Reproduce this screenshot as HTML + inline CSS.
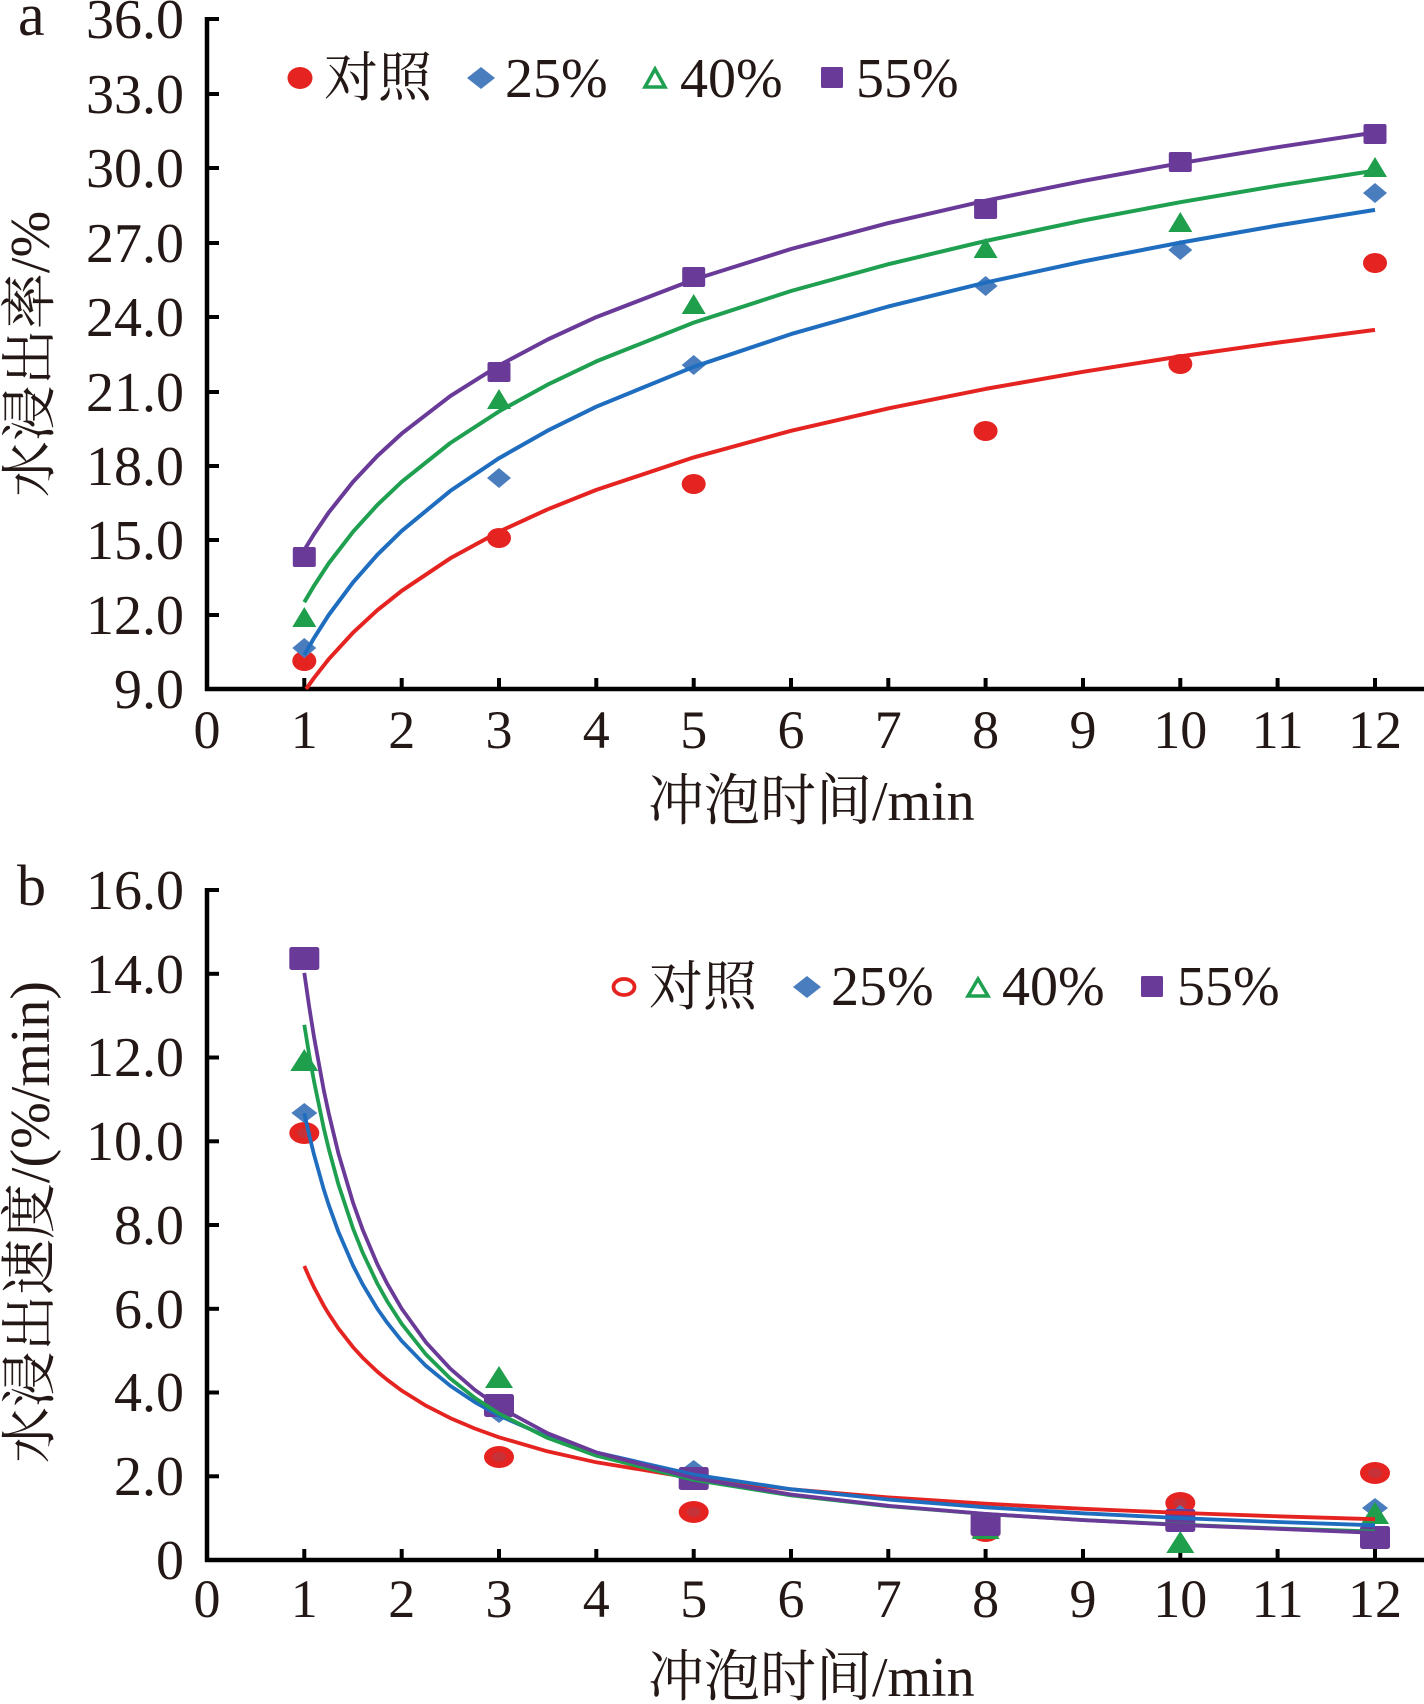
<!DOCTYPE html>
<html>
<head>
<meta charset="utf-8">
<style>
html,body{margin:0;padding:0;background:#fff;}
svg{display:block;}
.t{font-family:"Liberation Serif","Noto Serif CJK SC",serif;fill:#231815;}
</style>
</head>
<body>
<svg width="1424" height="1704" viewBox="0 0 1424 1704" xmlns="http://www.w3.org/2000/svg">
<rect width="1424" height="1704" fill="#fff"/>

<!-- ================= CHART A ================= -->
<text class="t" x="18" y="35" font-size="60">a</text>
<g class="t" font-size="56" text-anchor="end">
<text x="184" y="38">36.0</text>
<text x="184" y="113">33.0</text>
<text x="184" y="187">30.0</text>
<text x="184" y="262">27.0</text>
<text x="184" y="336">24.0</text>
<text x="184" y="411">21.0</text>
<text x="184" y="485">18.0</text>
<text x="184" y="559">15.0</text>
<text x="184" y="634">12.0</text>
<text x="184" y="708">9.0</text>
</g>
<text class="t" font-size="56" text-anchor="middle" transform="translate(49,354) rotate(-90)">水浸出率/%</text>
<g stroke="#000" stroke-width="4.5" fill="none">
<line x1="207" y1="17" x2="207" y2="691"/>
<line x1="205" y1="689" x2="1424" y2="689"/>
</g>
<g stroke="#000" stroke-width="4" fill="none">
<line x1="207" y1="19" x2="219" y2="19"/>
<line x1="207" y1="94" x2="219" y2="94"/>
<line x1="207" y1="168" x2="219" y2="168"/>
<line x1="207" y1="243" x2="219" y2="243"/>
<line x1="207" y1="317" x2="219" y2="317"/>
<line x1="207" y1="392" x2="219" y2="392"/>
<line x1="207" y1="466" x2="219" y2="466"/>
<line x1="207" y1="540" x2="219" y2="540"/>
<line x1="207" y1="615" x2="219" y2="615"/>
<line x1="304.3" y1="689" x2="304.3" y2="678"/>
<line x1="401.7" y1="689" x2="401.7" y2="678"/>
<line x1="499" y1="689" x2="499" y2="678"/>
<line x1="596.3" y1="689" x2="596.3" y2="678"/>
<line x1="693.7" y1="689" x2="693.7" y2="678"/>
<line x1="791" y1="689" x2="791" y2="678"/>
<line x1="888.3" y1="689" x2="888.3" y2="678"/>
<line x1="985.6" y1="689" x2="985.6" y2="678"/>
<line x1="1083" y1="689" x2="1083" y2="678"/>
<line x1="1180.3" y1="689" x2="1180.3" y2="678"/>
<line x1="1277.6" y1="689" x2="1277.6" y2="678"/>
<line x1="1375" y1="689" x2="1375" y2="678"/>
</g>
<g class="t" font-size="54" text-anchor="middle">
<text x="207" y="748">0</text>
<text x="304.3" y="748">1</text>
<text x="401.7" y="748">2</text>
<text x="499" y="748">3</text>
<text x="596.3" y="748">4</text>
<text x="693.7" y="748">5</text>
<text x="791" y="748">6</text>
<text x="888.3" y="748">7</text>
<text x="985.6" y="748">8</text>
<text x="1083" y="748">9</text>
<text x="1180.3" y="748">10</text>
<text x="1277.6" y="748">11</text>
<text x="1375" y="748">12</text>
</g>
<text class="t" x="648" y="820" font-size="56">冲泡时间/min</text>

<!-- legend a -->
<ellipse cx="300" cy="78" rx="12.5" ry="11" fill="#e52421"/>
<text class="t" x="324" y="96" font-size="54">对照</text>
<polygon points="467,78 481,67 495,78 481,89" fill="#4a7dbd"/>
<text class="t" x="505" y="97" font-size="56">25%</text>
<polygon points="645,87 655,69 665,87" fill="none" stroke="#1fa050" stroke-width="3.5"/>
<text class="t" x="680" y="97" font-size="56">40%</text>
<rect x="821" y="67" width="22" height="21" rx="1.5" fill="#6a3a98"/>
<text class="t" x="856" y="97" font-size="56">55%</text>

<!-- markers a -->
<g fill="#e52421">
<ellipse cx="304.3" cy="661" rx="12" ry="10"/>
<ellipse cx="499" cy="538" rx="12" ry="10"/>
<ellipse cx="693.7" cy="484" rx="12" ry="10"/>
<ellipse cx="985.6" cy="431" rx="12" ry="10"/>
<ellipse cx="1180.3" cy="364" rx="12" ry="10"/>
<ellipse cx="1375" cy="263" rx="12" ry="10"/>
</g>
<g fill="#4a7dbd">
<polygon points="292.3,648 304.3,638 316.3,648 304.3,658"/>
<polygon points="487,478 499,468 511,478 499,488"/>
<polygon points="681.7,365 693.7,355 705.7,365 693.7,375"/>
<polygon points="973.6,286 985.6,276 997.6,286 985.6,296"/>
<polygon points="1168.3,250 1180.3,240 1192.3,250 1180.3,260"/>
<polygon points="1363,193 1375,183 1387,193 1375,203"/>
</g>
<g fill="#1f9e4c">
<polygon points="292.3,627 304.3,607 316.3,627"/>
<polygon points="487,409 499,389 511,409"/>
<polygon points="681.7,314 693.7,294 705.7,314"/>
<polygon points="973.6,258 985.6,238 997.6,258"/>
<polygon points="1168.3,232 1180.3,212 1192.3,232"/>
<polygon points="1363,177 1375,157 1387,177"/>
</g>
<g fill="#6a3a98">
<rect x="292.8" y="547" width="23" height="20" rx="2"/>
<rect x="487.5" y="362" width="23" height="20" rx="2"/>
<rect x="682.2" y="267" width="23" height="20" rx="2"/>
<rect x="974.1" y="199" width="23" height="20" rx="2"/>
<rect x="1168.8" y="152" width="23" height="20" rx="2"/>
<rect x="1363.5" y="124" width="23" height="20" rx="2"/>
</g>

<!-- curves a -->
<g fill="none" stroke-width="4" stroke-linejoin="round" stroke-linecap="butt">
<polyline stroke="#e52421" points="306.1,689 314.1,677.8 328.7,659.2 353.0,632.7 377.3,610.2 401.7,590.8 450.3,558.3 499.0,531.7 547.7,509.3 596.3,489.9 693.7,457.4 791.0,430.8 888.3,408.4 985.6,388.9 1083.0,371.8 1180.3,356.4 1277.6,342.6 1375.0,329.9"/>
<polyline stroke="#1f6dbf" points="304.3,655.0 314.1,637.9 328.7,615.0 353.0,582.4 377.3,554.8 401.7,530.9 450.3,490.9 499.0,458.2 547.7,430.6 596.3,406.7 693.7,366.8 791.0,334.1 888.3,306.5 985.6,282.6 1083.0,261.5 1180.3,242.6 1277.6,225.5 1375.0,209.9"/>
<polyline stroke="#1fa050" points="304.3,602.2 314.1,585.6 328.7,563.4 353.0,531.8 377.3,505.0 401.7,481.8 450.3,443.0 499.0,411.4 547.7,384.6 596.3,361.4 693.7,322.6 791.0,291.0 888.3,264.2 985.6,241.0 1083.0,220.5 1180.3,202.2 1277.6,185.7 1375.0,170.6"/>
<polyline stroke="#6a3a98" points="304.3,550.0 314.1,534.0 328.7,512.5 353.0,481.9 377.3,456.0 401.7,433.6 450.3,396.1 499.0,365.4 547.7,339.5 596.3,317.1 693.7,279.6 791.0,249.0 888.3,223.1 985.6,200.7 1083.0,180.9 1180.3,163.2 1277.6,147.2 1375.0,132.5"/>
</g>

<!-- ================= CHART B ================= -->
<text class="t" x="17" y="905" font-size="58">b</text>
<g class="t" font-size="56" text-anchor="end">
<text x="184" y="909">16.0</text>
<text x="184" y="993">14.0</text>
<text x="184" y="1076">12.0</text>
<text x="184" y="1160">10.0</text>
<text x="184" y="1244">8.0</text>
<text x="184" y="1328">6.0</text>
<text x="184" y="1411">4.0</text>
<text x="184" y="1495">2.0</text>
<text x="184" y="1579">0</text>
</g>
<text class="t" font-size="56" text-anchor="middle" transform="translate(49,1222) rotate(-90)">水浸出速度/(%/min)</text>
<g stroke="#000" stroke-width="4.5" fill="none">
<line x1="207" y1="888" x2="207" y2="1562"/>
<line x1="205" y1="1560" x2="1424" y2="1560"/>
</g>
<g stroke="#000" stroke-width="4" fill="none">
<line x1="207" y1="890" x2="219" y2="890"/>
<line x1="207" y1="973.8" x2="219" y2="973.8"/>
<line x1="207" y1="1057.5" x2="219" y2="1057.5"/>
<line x1="207" y1="1141.3" x2="219" y2="1141.3"/>
<line x1="207" y1="1225" x2="219" y2="1225"/>
<line x1="207" y1="1308.8" x2="219" y2="1308.8"/>
<line x1="207" y1="1392.5" x2="219" y2="1392.5"/>
<line x1="207" y1="1476.3" x2="219" y2="1476.3"/>
<line x1="304.3" y1="1560" x2="304.3" y2="1549"/>
<line x1="401.7" y1="1560" x2="401.7" y2="1549"/>
<line x1="499" y1="1560" x2="499" y2="1549"/>
<line x1="596.3" y1="1560" x2="596.3" y2="1549"/>
<line x1="693.7" y1="1560" x2="693.7" y2="1549"/>
<line x1="791" y1="1560" x2="791" y2="1549"/>
<line x1="888.3" y1="1560" x2="888.3" y2="1549"/>
<line x1="985.6" y1="1560" x2="985.6" y2="1549"/>
<line x1="1083" y1="1560" x2="1083" y2="1549"/>
<line x1="1180.3" y1="1560" x2="1180.3" y2="1549"/>
<line x1="1277.6" y1="1560" x2="1277.6" y2="1549"/>
<line x1="1375" y1="1560" x2="1375" y2="1549"/>
</g>
<g class="t" font-size="54" text-anchor="middle">
<text x="207" y="1617">0</text>
<text x="304.3" y="1617">1</text>
<text x="401.7" y="1617">2</text>
<text x="499" y="1617">3</text>
<text x="596.3" y="1617">4</text>
<text x="693.7" y="1617">5</text>
<text x="791" y="1617">6</text>
<text x="888.3" y="1617">7</text>
<text x="985.6" y="1617">8</text>
<text x="1083" y="1617">9</text>
<text x="1180.3" y="1617">10</text>
<text x="1277.6" y="1617">11</text>
<text x="1375" y="1617">12</text>
</g>
<text class="t" x="648" y="1696" font-size="56">冲泡时间/min</text>

<!-- legend b -->
<ellipse cx="624" cy="987" rx="10.5" ry="8" fill="none" stroke="#e52421" stroke-width="3.8"/>
<text class="t" x="649" y="1005" font-size="54">对照</text>
<polygon points="793,987 807,976 821,987 807,998" fill="#4a7dbd"/>
<text class="t" x="831" y="1005" font-size="56">25%</text>
<polygon points="968,996 978,979 988,996" fill="none" stroke="#1fa050" stroke-width="3.5"/>
<text class="t" x="1002" y="1005" font-size="56">40%</text>
<rect x="1141" y="976" width="22" height="21" rx="1.5" fill="#6a3a98"/>
<text class="t" x="1177" y="1005" font-size="56">55%</text>

<!-- markers b -->
<g fill="#e52421">
<ellipse cx="304.3" cy="1133" rx="15" ry="11"/>
<ellipse cx="499" cy="1457" rx="15" ry="11"/>
<ellipse cx="693.7" cy="1512" rx="15" ry="11"/>
<ellipse cx="985.6" cy="1531" rx="15" ry="11"/>
<ellipse cx="1180.3" cy="1503" rx="15" ry="11"/>
<ellipse cx="1375" cy="1473" rx="15" ry="11"/>
</g>
<g fill="#b23a48" opacity="0.6">
<ellipse cx="304.3" cy="1133" rx="7" ry="5"/>
<ellipse cx="499" cy="1457" rx="7" ry="5"/>
<ellipse cx="693.7" cy="1512" rx="7" ry="5"/>
<ellipse cx="1180.3" cy="1503" rx="7" ry="5"/>
<ellipse cx="1375" cy="1473" rx="7" ry="5"/>
</g>
<g fill="#4a7dbd">
<polygon points="291.3,1113 304.3,1103 317.3,1113 304.3,1123"/>
<polygon points="486,1413 499,1403 512,1413 499,1423"/>
<polygon points="680.7,1470 693.7,1460 706.7,1470 693.7,1480"/>
<polygon points="972.6,1522 985.6,1512 998.6,1522 985.6,1532"/>
<polygon points="1167.3,1515 1180.3,1505 1193.3,1515 1180.3,1525"/>
<polygon points="1362,1508 1375,1498 1388,1508 1375,1518"/>
</g>
<g fill="#1f9e4c">
<polygon points="290.3,1071 304.3,1049 318.3,1071"/>
<polygon points="485,1388 499,1366 513,1388"/>
<polygon points="679.7,1489 693.7,1467 707.7,1489"/>
<polygon points="971.6,1539 985.6,1517 999.6,1539"/>
<polygon points="1166.3,1553 1180.3,1531 1194.3,1553"/>
<polygon points="1361,1524 1375,1502 1389,1524"/>
</g>
<g fill="#6a3a98">
<rect x="289.3" y="947" width="30" height="23" rx="2.5"/>
<rect x="484" y="1394" width="30" height="23" rx="2.5"/>
<rect x="678.7" y="1467" width="30" height="23" rx="2.5"/>
<rect x="970.6" y="1513" width="30" height="23" rx="2.5"/>
<rect x="1165.3" y="1509" width="30" height="23" rx="2.5"/>
<rect x="1360" y="1526" width="30" height="23" rx="2.5"/>
</g>

<!-- curves b -->
<g fill="none" stroke-width="3.8" stroke-linejoin="round">
<polyline stroke="#e52421" points="304.3,1266.0 309.2,1277.2 314.1,1287.5 323.8,1305.7 328.7,1313.8 338.4,1328.4 353.0,1347.1 362.7,1357.7 377.3,1371.6 387.1,1379.7 401.7,1390.6 426.0,1405.7 450.3,1418.1 474.7,1428.5 499.0,1437.3 547.7,1451.4 596.3,1462.3 693.7,1478.2 791.0,1489.3 888.3,1497.4 985.6,1503.7 1083.0,1508.8 1180.3,1512.9 1277.6,1516.3 1375.0,1519.2"/>
<polyline stroke="#1f6dbf" points="304.3,1113.2 309.2,1135.1 314.1,1154.9 323.8,1189.6 328.7,1204.8 338.4,1231.8 353.0,1265.5 362.7,1284.4 377.3,1308.7 387.1,1322.6 401.7,1340.9 426.0,1365.9 450.3,1385.8 474.7,1402.1 499.0,1415.6 547.7,1436.7 596.3,1452.5 693.7,1474.6 791.0,1489.2 888.3,1499.5 985.6,1507.3 1083.0,1513.3 1180.3,1518.1 1277.6,1522.0 1375.0,1525.3"/>
<polyline stroke="#1fa050" points="304.3,1024.8 309.2,1054.8 314.1,1081.8 323.8,1128.4 328.7,1148.7 338.4,1184.4 353.0,1228.4 362.7,1252.7 377.3,1283.5 387.1,1301.1 401.7,1323.8 426.0,1354.5 450.3,1378.5 474.7,1397.8 499.0,1413.6 547.7,1438.0 596.3,1455.7 693.7,1479.9 791.0,1495.4 888.3,1506.2 985.6,1514.0 1083.0,1520.0 1180.3,1524.7 1277.6,1528.4 1375.0,1531.5"/>
<polyline stroke="#6a3a98" points="304.3,972.9 309.2,1006.9 314.1,1037.5 323.8,1090.3 328.7,1113.2 338.4,1153.4 353.0,1202.6 362.7,1229.7 377.3,1264.1 387.1,1283.5 401.7,1308.7 426.0,1342.4 450.3,1368.7 474.7,1389.8 499.0,1407.0 547.7,1433.3 596.3,1452.4 693.7,1478.1 791.0,1494.5 888.3,1505.8 985.6,1513.9 1083.0,1520.1 1180.3,1525.0 1277.6,1528.8 1375.0,1532.9"/>
</g>
</svg>
</body>
</html>
